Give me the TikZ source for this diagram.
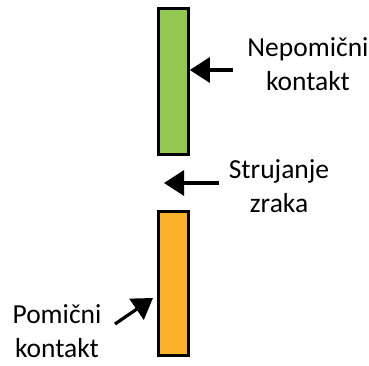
\documentclass[tikz,border=0pt]{standalone}
\usepackage{fontspec}
\setmainfont{Carlito}
\usetikzlibrary{arrows.meta, positioning}
\definecolor{cGreen}{RGB}{146,200,80}
\definecolor{cOrange}{RGB}{252,178,40}

\tikzset{
  contact/.style={draw=black, line width=2.6pt, minimum width=30pt, inner sep=0pt},
  label/.style={font=\fontsize{27.5}{34}\selectfont, align=center, inner sep=0pt, text depth=0pt},
  pointer/.style={line width=3.2pt, -{Triangle[length=20pt, width=25pt]}}
}

\begin{document}
\begin{tikzpicture}[x=1pt, y=-1pt]
  \useasboundingbox (0,0) rectangle (369,365);

  % contacts
  \node[contact, fill=cGreen, minimum height=146pt] (fixed) at (173.5,81.5) {};
  \node[contact, fill=cOrange, minimum height=144pt] (moving) at (173.5,283.5) {};

  % labels (base = last line)
  \node[label, anchor=base] (fixedlbl) at (308,90) {Nepomični\\kontakt};
  \node[label, anchor=base] (airlbl) at (279,212) {Strujanje\\zraka};
  \node[label, anchor=base] (movinglbl) at (57,357) {Pomični\\kontakt};

  % arrows
  \coordinate (a1) at (233,70);
  \coordinate (a2) at (219,183);
  \coordinate (a2tip) at (164,183);
  \coordinate (a3) at (115,324);
  \coordinate (a3tip) at (153,298);
  \draw[pointer] (a1) -- (fixed.east |- a1);
  \draw[pointer] (a2) -- (a2tip);
  \draw[pointer] (a3) -- (a3tip);
\end{tikzpicture}
\end{document}
